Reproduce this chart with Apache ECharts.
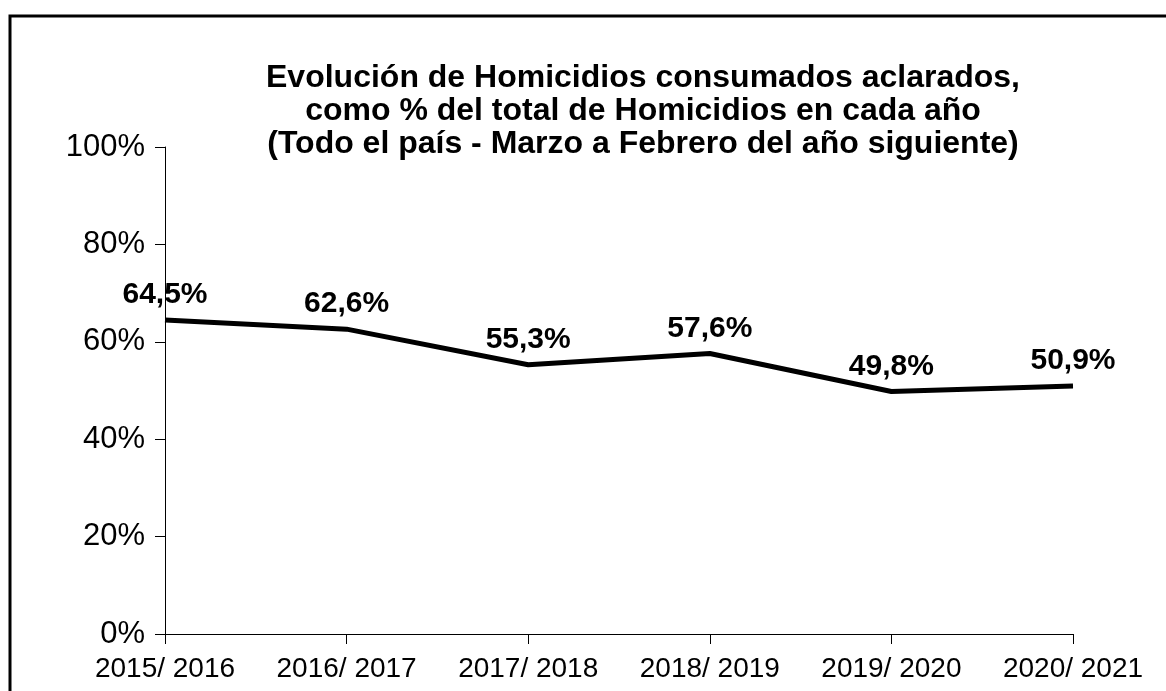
<!DOCTYPE html>
<html>
<head>
<meta charset="utf-8">
<script src="https://cdn.jsdelivr.net/npm/echarts@6/dist/echarts.min.js"></script>
<style>
  html, body { margin: 0; padding: 0; background: #fff; }
  #main { width: 1166px; height: 691px; }
</style>
</head>
<body>
<div id="main"></div>
<script>
  // datos
  var periodos = ['2015/ 2016', '2016/ 2017', '2017/ 2018', '2018/ 2019', '2019/ 2020', '2020/ 2021'];
  var aclarados = [64.5, 62.6, 55.3, 57.6, 49.8, 50.9];
  var ticksY = [0, 20, 40, 60, 80, 100];

  var chart = echarts.init(document.getElementById('main'));
  var fuente = '"Liberation Sans", Arial, sans-serif';

  chart.setOption({
    animation: false,
    backgroundColor: '#fff',
    textStyle: { fontFamily: fuente },
    title: {
      text: 'Evolución de Homicidios consumados aclarados,\ncomo % del total de Homicidios en cada año\n(Todo el país - Marzo a Febrero del año siguiente)',
      left: 638,
      top: 57,
      textAlign: 'center',
      textStyle: {
        fontFamily: fuente,
        fontSize: 32,
        fontWeight: 'bold',
        color: '#000',
        lineHeight: 33,
        align: 'center'
      }
    },
    graphic: [
      {
        type: 'rect',
        shape: { x: 10, y: 16, width: 1300, height: 800 },
        style: { fill: 'none', stroke: '#000', lineWidth: 3 },
        silent: true
      }
    ],
    grid: {
      left: 165,
      right: 93,
      top: 147,
      bottom: 57
    },
    xAxis: {
      type: 'category',
      boundaryGap: false,
      data: periodos,
      axisLine: { lineStyle: { color: '#000', width: 1 } },
      axisTick: { show: true, interval: 0, length: 10, lineStyle: { color: '#000' } },
      axisLabel: {
        color: '#000',
        fontSize: 28,
        margin: 21,
        interval: 0,
        fontFamily: fuente
      },
      splitLine: { show: false }
    },
    yAxis: {
      type: 'value',
      min: ticksY[0],
      max: ticksY[ticksY.length - 1],
      interval: 20,
      axisLine: { show: true, lineStyle: { color: '#000', width: 1 } },
      axisTick: { show: true, length: 10, lineStyle: { color: '#000' } },
      axisLabel: {
        color: '#000',
        fontSize: 31,
        margin: 20,
        fontFamily: fuente,
        formatter: '{value}%'
      },
      splitLine: { show: false }
    },
    series: [
      {
        type: 'line',
        data: aclarados,
        symbol: 'circle',
        symbolSize: 0,
        showSymbol: true,
        itemStyle: { color: '#000' },
        lineStyle: { color: '#000', width: 5 },
        label: {
          show: true,
          position: 'top',
          distance: 10,
          color: '#000',
          fontSize: 30,
          fontWeight: 'bold',
          fontFamily: fuente,
          formatter: function (p) {
            return p.value.toFixed(1).replace('.', ',') + '%';
          }
        }
      }
    ]
  });
</script>
</body>
</html>
